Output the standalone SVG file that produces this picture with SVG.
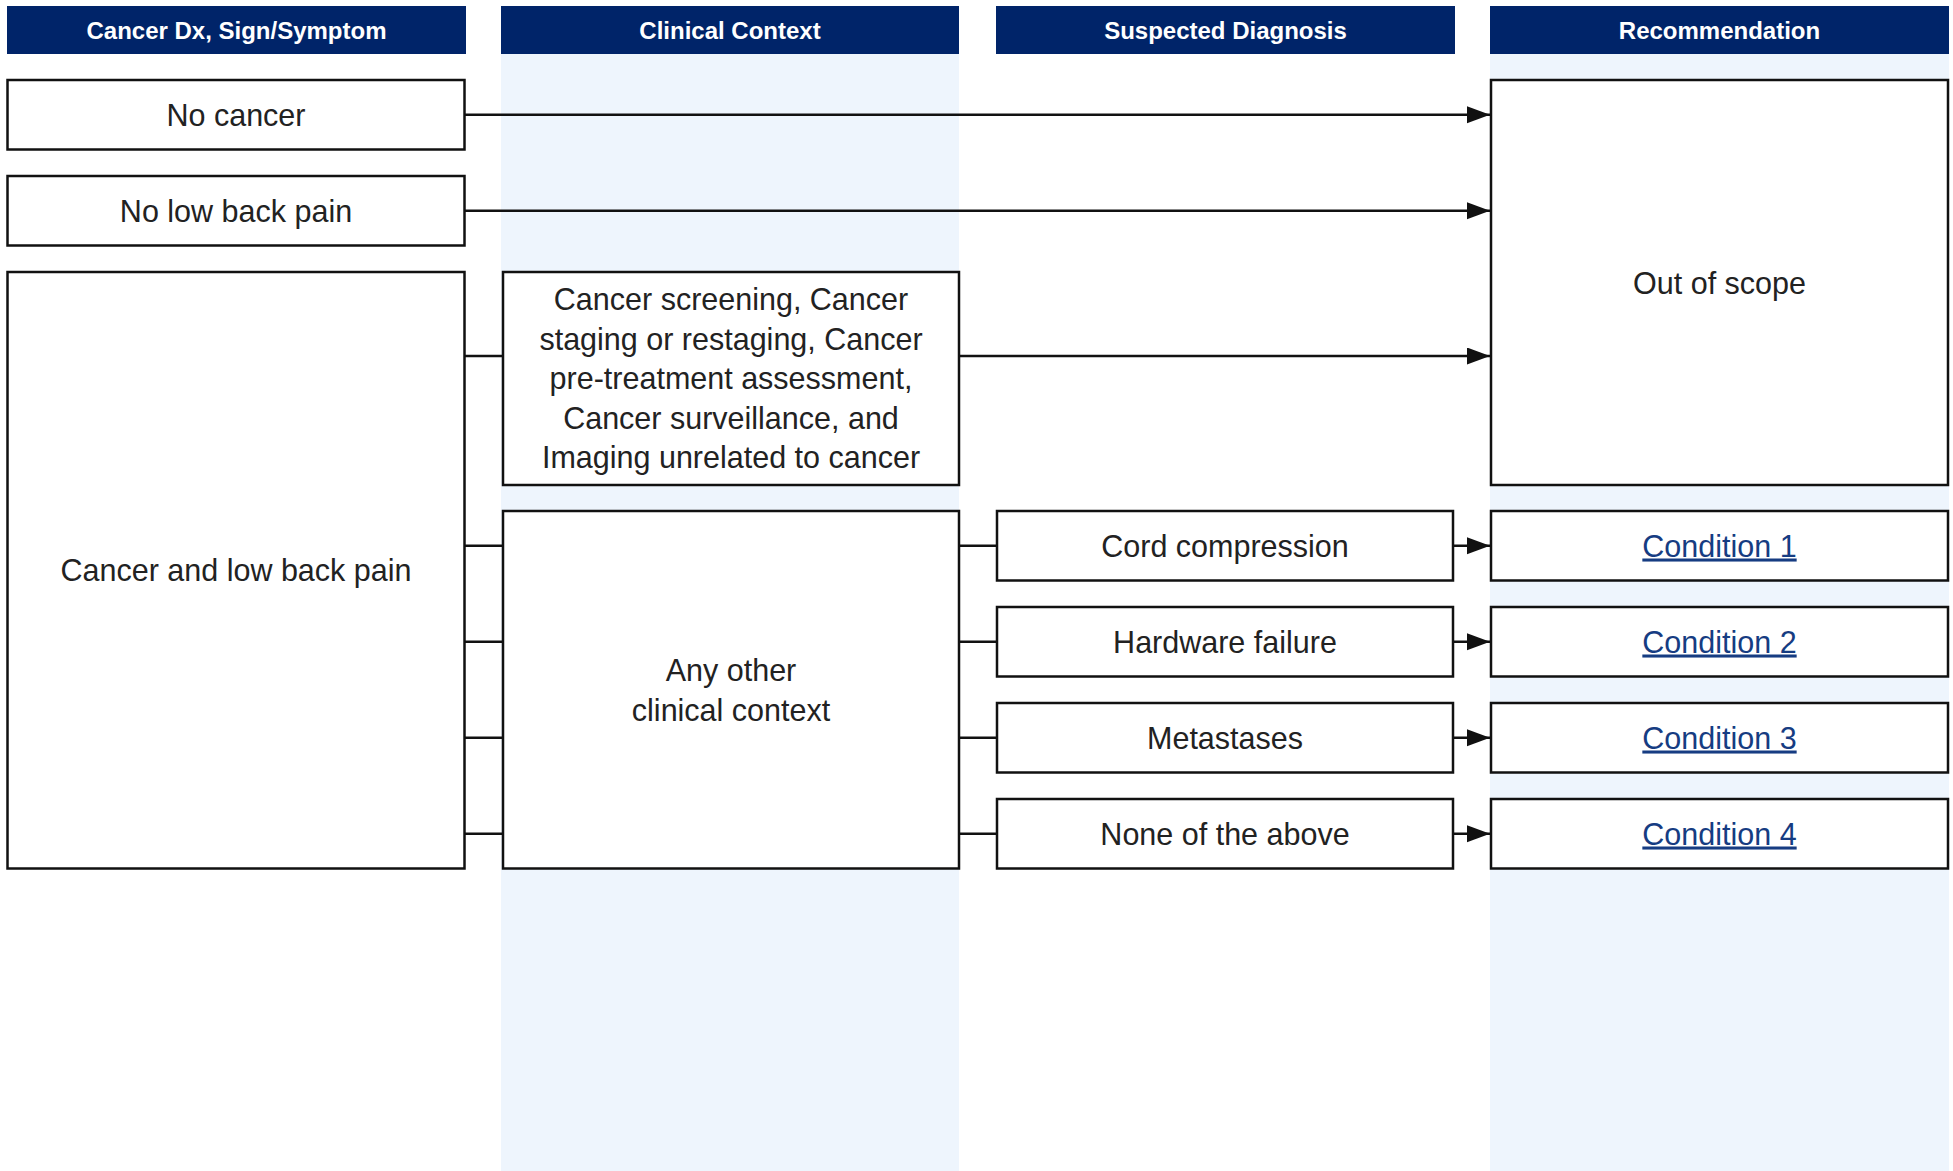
<svg xmlns="http://www.w3.org/2000/svg" width="1953" height="1171" viewBox="0 0 1953 1171">
<style>
.band{fill:#EEF5FD}
.hdr{fill:#002469}
.htxt{font-family:"Liberation Sans",Arial,sans-serif;font-size:24px;font-weight:bold;fill:#ffffff;text-anchor:middle}
.box{fill:#ffffff;stroke:#111111;stroke-width:2.5}
.txt{font-family:"Liberation Sans",Arial,sans-serif;font-size:30.5px;fill:#222222;text-anchor:middle}
.link{font-family:"Liberation Sans",Arial,sans-serif;font-size:30.5px;fill:#163C82;text-anchor:middle;text-decoration:underline}
.ln{fill:none;stroke:#111111;stroke-width:2.5}
.arr{fill:none;stroke:#111111;stroke-width:2.5;marker-end:url(#ah)}
</style>
<defs>
<marker id="ah" markerUnits="userSpaceOnUse" markerWidth="24" markerHeight="18" refX="23" refY="8.5" orient="auto">
<path d="M0,0 L23,8.5 L0,17 Z" fill="#111111"/>
</marker>
</defs>
<rect width="1953" height="1171" fill="#ffffff"/>
<g id="bands">
<rect class="band" x="501" y="54" width="458" height="1117"/>
<rect class="band" x="1490" y="54" width="459" height="1117"/>
</g>
<g id="headers">
<rect class="hdr" x="7" y="6" width="459" height="48"/>
<text class="htxt" x="236.5" y="39">Cancer Dx, Sign/Symptom</text>
<rect class="hdr" x="501" y="6" width="458" height="48"/>
<text class="htxt" x="730" y="39">Clinical Context</text>
<rect class="hdr" x="996" y="6" width="459" height="48"/>
<text class="htxt" x="1225.5" y="39">Suspected Diagnosis</text>
<rect class="hdr" x="1490" y="6" width="459" height="48"/>
<text class="htxt" x="1719.5" y="39">Recommendation</text>
</g>
<g id="connectors">
<line class="arr" x1="465" y1="114.75" x2="1490" y2="114.75"/>
<line class="arr" x1="465" y1="210.75" x2="1490" y2="210.75"/>
<line class="ln" x1="465" y1="356" x2="503" y2="356"/>
<line class="arr" x1="959" y1="356" x2="1490" y2="356"/>
<line class="ln" x1="465" y1="545.75" x2="503" y2="545.75"/>
<line class="ln" x1="465" y1="641.75" x2="503" y2="641.75"/>
<line class="ln" x1="465" y1="737.75" x2="503" y2="737.75"/>
<line class="ln" x1="465" y1="833.75" x2="503" y2="833.75"/>
<line class="ln" x1="959" y1="545.75" x2="997" y2="545.75"/>
<line class="ln" x1="959" y1="641.75" x2="997" y2="641.75"/>
<line class="ln" x1="959" y1="737.75" x2="997" y2="737.75"/>
<line class="ln" x1="959" y1="833.75" x2="997" y2="833.75"/>
<line class="arr" x1="1453" y1="545.75" x2="1490" y2="545.75"/>
<line class="arr" x1="1453" y1="641.75" x2="1490" y2="641.75"/>
<line class="arr" x1="1453" y1="737.75" x2="1490" y2="737.75"/>
<line class="arr" x1="1453" y1="833.75" x2="1490" y2="833.75"/>
</g>
<g id="no-cancer">
<rect class="box" x="7.5" y="80" width="457" height="69.5"/>
<text class="txt" x="236" y="125.5">No cancer</text>
</g>
<g id="no-low-back-pain">
<rect class="box" x="7.5" y="176" width="457" height="69.5"/>
<text class="txt" x="236" y="221.5">No low back pain</text>
</g>
<g id="cancer-and-low-back-pain">
<rect class="box" x="7.5" y="272" width="457" height="596.5"/>
<text class="txt" x="236" y="581">Cancer and low back pain</text>
</g>
<g id="cancer-screening">
<rect class="box" x="503" y="272" width="456" height="213"/>
<text class="txt" x="731" y="310">Cancer screening, Cancer</text>
<text class="txt" x="731" y="349.5">staging or restaging, Cancer</text>
<text class="txt" x="731" y="389">pre-treatment assessment,</text>
<text class="txt" x="731" y="428.5">Cancer surveillance, and</text>
<text class="txt" x="731" y="468">Imaging unrelated to cancer</text>
</g>
<g id="any-other">
<rect class="box" x="503" y="511" width="456" height="357.5"/>
<text class="txt" x="731" y="681">Any other</text>
<text class="txt" x="731" y="720.5">clinical context</text>
</g>
<g id="out-of-scope">
<rect class="box" x="1491" y="80" width="457" height="405"/>
<text class="txt" x="1719.5" y="293.5">Out of scope</text>
</g>
<g id="cord-compression">
<rect class="box" x="997" y="511" width="456" height="69.5"/>
<text class="txt" x="1225" y="556.5">Cord compression</text>
</g>
<g id="hardware-failure">
<rect class="box" x="997" y="607" width="456" height="69.5"/>
<text class="txt" x="1225" y="652.5">Hardware failure</text>
</g>
<g id="metastases">
<rect class="box" x="997" y="703" width="456" height="69.5"/>
<text class="txt" x="1225" y="748.5">Metastases</text>
</g>
<g id="none-of-the-above">
<rect class="box" x="997" y="799" width="456" height="69.5"/>
<text class="txt" x="1225" y="844.5">None of the above</text>
</g>
<g id="condition-1">
<rect class="box" x="1491" y="511" width="457" height="69.5"/>
<text class="link" x="1719.5" y="556.5">Condition 1</text>
</g>
<g id="condition-2">
<rect class="box" x="1491" y="607" width="457" height="69.5"/>
<text class="link" x="1719.5" y="652.5">Condition 2</text>
</g>
<g id="condition-3">
<rect class="box" x="1491" y="703" width="457" height="69.5"/>
<text class="link" x="1719.5" y="748.5">Condition 3</text>
</g>
<g id="condition-4">
<rect class="box" x="1491" y="799" width="457" height="69.5"/>
<text class="link" x="1719.5" y="844.5">Condition 4</text>
</g>
</svg>
